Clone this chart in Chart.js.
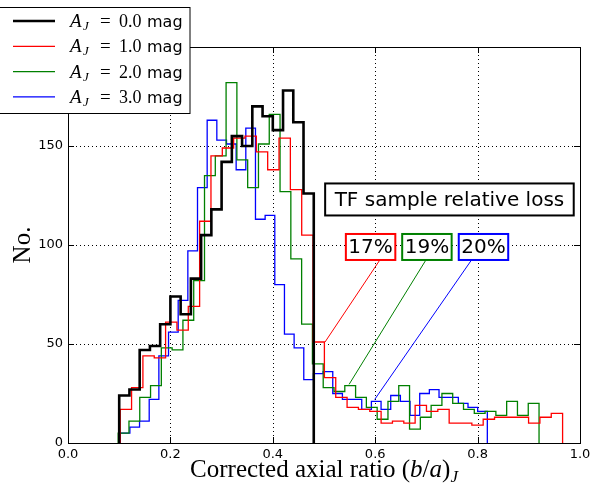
<!DOCTYPE html>
<html>
<head>
<meta charset="utf-8">
<script src="https://cdn.jsdelivr.net/npm/chart.js@4.4.1/dist/chart.umd.min.js"></script>
<style>
  html, body { margin: 0; padding: 0; background: #fff; }
</style>
</head>
<body>
<canvas id="ratioChart" width="602" height="491"></canvas>
<script>
// legend entries (A_J extinction, mag)
const extinctions = ['0.0', '1.0', '2.0', '3.0'];
const seriesColors = ['#000000', '#ff0000', '#008000', '#0000ff'];

// [first edge, last edge] of the (b/a)_J bins for each histogram
const binRange0 = [0.100, 0.480];
const binRange1 = [0.102, 0.966];
const binRange2 = [0.098, 0.920];
const binRange3 = [0.102, 0.819];

// counts per bin
const counts0 = [24, 27, 47, 49, 60, 74, 65, 83, 105, 118, 142, 155, 150, 170, 165, 158, 178, 162, 126];
const counts1 = [17, 28, 44, 43, 61, 57, 69, 112, 145, 149, 154, 155, 147, 138, 154, 128, 105, 51, 33, 23,
                 18, 17, 16, 10, 11, 10, 19, 16, 17, 10, 10, 9, 12, 13, 13, 13, 10, 13, 15];
const counts2 = [5, 11, 23, 29, 48, 47, 62, 82, 135, 145, 182, 143, 129, 151, 166, 127, 93, 60, 40, 28,
                 26, 29, 23, 18, 12, 21, 29, 7, 13, 19, 25, 20, 17, 15, 16, 14, 21, 14, 20];
const counts3 = [5, 8, 11, 22, 44, 56, 72, 97, 129, 163, 153, 151, 138, 159, 113, 115, 80, 55, 48, 32,
                 35, 36, 25, 22, 22, 17, 21, 17, 24, 21, 14, 25, 27, 23, 23, 20, 18, 16];

// annotation texts
const lossTitle = 'TF sample relative loss';
const lossLabels = ['17%', '19%', '20%'];

const binRanges = [binRange0, binRange1, binRange2, binRange3];
const allCounts = [counts0, counts1, counts2, counts3];

// histogram outline as points for a stepped line
function stepPoints(range, counts) {
    const w = (range[1] - range[0]) / counts.length;
    const pts = [{ x: range[0], y: 0 }];
    counts.forEach((c, i) => pts.push({ x: range[0] + i * w, y: c }));
    pts.push({ x: range[1], y: 0 });
    return pts;
}

const datasets = allCounts.map((counts, i) => ({
    label: 'A_J = ' + extinctions[i] + ' mag',
    data: stepPoints(binRanges[i], counts),
    borderColor: seriesColors[i],
    borderWidth: i === 0 ? 2.6 : 1.3,
    stepped: true,
    pointRadius: 0,
    fill: false,
    order: i === 0 ? 0 : 1,
}));

// boxes and pointer lines in data coordinates
const lossBox = { x: 0.745, y: 123 };
const pctBoxes = [
    { x: 0.591, y: 99, from: [0.609, 92.4], to: [0.502, 51] },
    { x: 0.701, y: 99, from: [0.699, 92.4], to: [0.549, 29.6] },
    { x: 0.8115, y: 99, from: [0.788, 92.4], to: [0.599, 22] },
];

function textBox(ctx, text, cx, cy, h, pad, color, lw) {
    ctx.font = '20px "DejaVu Sans"';
    const w = ctx.measureText(text).width + pad * 2;
    ctx.fillStyle = '#fff';
    ctx.fillRect(cx - w / 2, cy - h / 2, w, h);
    ctx.strokeStyle = color;
    ctx.lineWidth = lw;
    ctx.strokeRect(cx - w / 2, cy - h / 2, w, h);
    ctx.fillStyle = '#000';
    ctx.textAlign = 'center';
    ctx.textBaseline = 'middle';
    ctx.fillText(text, cx, cy + 1);
}

const decor = {
    id: 'decor',
    beforeDatasetsDraw(chart) {
        const { ctx, chartArea: a, scales: { x, y } } = chart;
        ctx.save();
        ctx.strokeStyle = '#000';
        ctx.lineWidth = 1;
        ctx.setLineDash([1, 3]);
        x.ticks.slice(1, -1).forEach(t => {
            const px = Math.round(x.getPixelForValue(t.value)) + 0.5;
            ctx.beginPath(); ctx.moveTo(px, a.top); ctx.lineTo(px, a.bottom); ctx.stroke();
        });
        y.ticks.slice(1, -1).forEach(t => {
            const py = Math.round(y.getPixelForValue(t.value)) + 0.5;
            ctx.beginPath(); ctx.moveTo(a.left, py); ctx.lineTo(a.right, py); ctx.stroke();
        });
        ctx.restore();
    },
    afterDatasetsDraw(chart) {
        const { ctx, chartArea: a, scales: { x, y } } = chart;
        ctx.save();

        // frame and inward ticks
        ctx.strokeStyle = '#000';
        ctx.lineWidth = 1;
        ctx.strokeRect(Math.round(a.left) + 0.5, Math.round(a.top) + 0.5,
                       Math.round(a.right - a.left), Math.round(a.bottom - a.top));
        ctx.beginPath();
        x.ticks.forEach(t => {
            const px = Math.round(x.getPixelForValue(t.value)) + 0.5;
            ctx.moveTo(px, a.bottom); ctx.lineTo(px, a.bottom - 6);
            ctx.moveTo(px, a.top); ctx.lineTo(px, a.top + 6);
        });
        y.ticks.forEach(t => {
            const py = Math.round(y.getPixelForValue(t.value)) + 0.5;
            ctx.moveTo(a.left, py); ctx.lineTo(a.left + 6, py);
            ctx.moveTo(a.right, py); ctx.lineTo(a.right - 6, py);
        });
        ctx.stroke();

        // pointer lines, then the labelled boxes
        pctBoxes.forEach((b, i) => {
            ctx.strokeStyle = seriesColors[i + 1];
            ctx.lineWidth = 1;
            ctx.beginPath();
            ctx.moveTo(x.getPixelForValue(b.from[0]), y.getPixelForValue(b.from[1]));
            ctx.lineTo(x.getPixelForValue(b.to[0]), y.getPixelForValue(b.to[1]));
            ctx.stroke();
        });
        textBox(ctx, lossTitle, x.getPixelForValue(lossBox.x), y.getPixelForValue(lossBox.y), 32, 9.5, '#000', 2);
        pctBoxes.forEach((b, i) => {
            textBox(ctx, lossLabels[i], x.getPixelForValue(b.x), y.getPixelForValue(b.y), 26, 2.5, seriesColors[i + 1], 2);
        });

        // legend
        ctx.fillStyle = '#fff';
        ctx.fillRect(-1, 7.5, 191, 106);
        ctx.strokeStyle = '#000';
        ctx.lineWidth = 1;
        ctx.strokeRect(-1, 7.5, 191, 106);
        ctx.textAlign = 'left';
        ctx.textBaseline = 'alphabetic';
        extinctions.forEach((ext, i) => {
            const ry = 21 + i * 25.3;
            ctx.strokeStyle = seriesColors[i];
            ctx.lineWidth = i === 0 ? 2.6 : 1.3;
            ctx.beginPath(); ctx.moveTo(13, ry); ctx.lineTo(55, ry); ctx.stroke();
            ctx.fillStyle = '#000';
            ctx.font = 'italic 19px "Liberation Serif"';
            ctx.fillText('A', 70, ry + 6);
            ctx.font = 'italic 13px "Liberation Serif"';
            ctx.fillText('J', 83, ry + 9);
            ctx.font = '19px "Liberation Serif"';
            ctx.fillText('=', 100, ry + 6);
            ctx.font = '18px "Liberation Serif"';
            ctx.fillText(ext, 119, ry + 6);
            ctx.font = '16px "DejaVu Sans"';
            ctx.fillText('mag', 147, ry + 6);
        });

        // axis titles
        ctx.fillStyle = '#000';
        const parts = [
            ['Corrected axial ratio (', '25px "Liberation Serif"', 0],
            ['b', 'italic 25px "Liberation Serif"', 0],
            ['/', '25px "Liberation Serif"', 0],
            ['a', 'italic 25px "Liberation Serif"', 0],
            [')', '25px "Liberation Serif"', 0],
            ['J', 'italic 17px "Liberation Serif"', 5],
        ];
        let total = 0;
        parts.forEach(p => { ctx.font = p[1]; total += ctx.measureText(p[0]).width; });
        let tx = (a.left + a.right) / 2 - total / 2;
        parts.forEach(p => {
            ctx.font = p[1];
            ctx.fillText(p[0], tx, 477 + p[2]);
            tx += ctx.measureText(p[0]).width;
        });
        ctx.translate(30, (a.top + a.bottom) / 2);
        ctx.rotate(-Math.PI / 2);
        ctx.textAlign = 'center';
        ctx.font = '25px "Liberation Serif"';
        ctx.fillText('No.', 0, 0);

        ctx.restore();
    }
};

new Chart(document.getElementById('ratioChart').getContext('2d'), {
    type: 'line',
    data: { datasets: datasets },
    options: {
        responsive: false,
        animation: false,
        layout: { padding: { top: 47, right: 22, left: 0, bottom: 0 } },
        plugins: { legend: { display: false }, tooltip: { enabled: false } },
        scales: {
            x: {
                type: 'linear',
                min: 0,
                max: 1,
                grid: { display: false, drawTicks: false },
                border: { display: false },
                ticks: {
                    stepSize: 0.2,
                    color: '#000',
                    padding: 4,
                    maxRotation: 0,
                    font: { family: 'DejaVu Sans', size: 13 },
                    callback: v => v.toFixed(1),
                },
                afterFit: s => { s.height = 48; },
            },
            y: {
                min: 0,
                max: 200,
                grid: { display: false, drawTicks: false },
                border: { display: false },
                ticks: {
                    stepSize: 50,
                    color: '#000',
                    padding: 5,
                    font: { family: 'DejaVu Sans', size: 13 },
                },
                afterFit: s => { s.width = 68; },
            },
        },
    },
    plugins: [decor],
});
</script>
</body>
</html>
